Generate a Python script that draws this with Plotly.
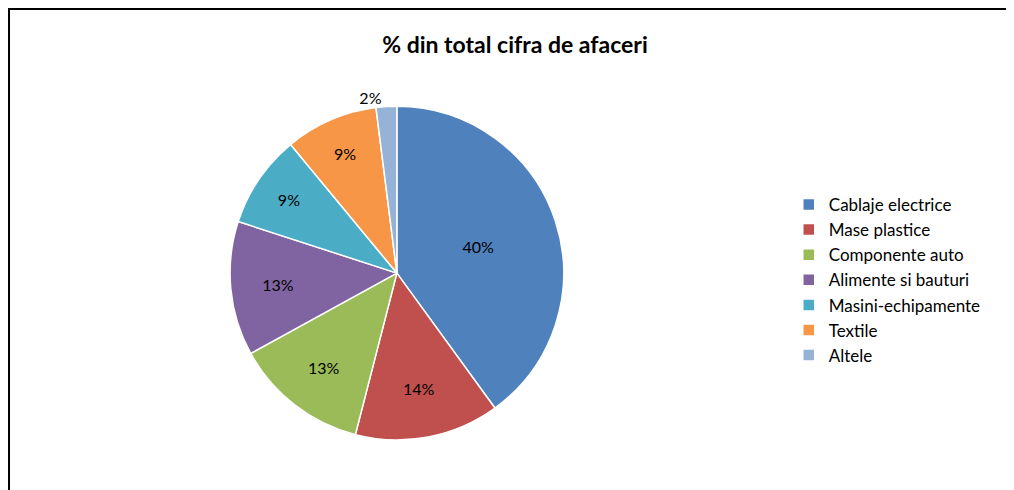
import plotly.graph_objects as go

categories = ["Cablaje electrice", "Mase plastice", "Componente auto", "Alimente si bauturi",
              "Masini-echipamente", "Textile", "Altele"]
values = [40, 14, 13, 13, 9, 9, 2]
colors = ["#4F81BD", "#C0504D", "#9BBB59", "#8064A2", "#4BACC6", "#F79646", "#95B3D7"]
positions = ["inside"] * 6 + ["outside"]

fig = go.Figure(go.Pie(
    labels=categories, values=values, sort=False, direction="clockwise", rotation=0,
    marker=dict(colors=colors, line=dict(color="white", width=1.5)),
    texttemplate="%{percent:.0%}", textposition=positions,
    textfont=dict(color="black", size=16), insidetextorientation="horizontal",
    domain=dict(x=[0.219, 0.548], y=[0.118, 0.800]),
))
fig.update_layout(
    width=1014, height=490, margin=dict(l=0, r=0, t=0, b=0),
    paper_bgcolor="white", font=dict(family="Lato", color="black"),
    title=dict(text="<b>% din total cifra de afaceri</b>", x=0.5, xanchor="center",
               y=0.925, yanchor="middle", font=dict(size=23)),
    legend=dict(x=0.77, y=0.445, xanchor="left", yanchor="middle", font=dict(size=17),
                itemwidth=30),
    shapes=[dict(type="rect", xref="paper", yref="paper", x0=0.001, y0=0.002, x1=0.999, y1=0.998,
                 line=dict(color="black", width=2))],
)
fig.write_html("out.html")
